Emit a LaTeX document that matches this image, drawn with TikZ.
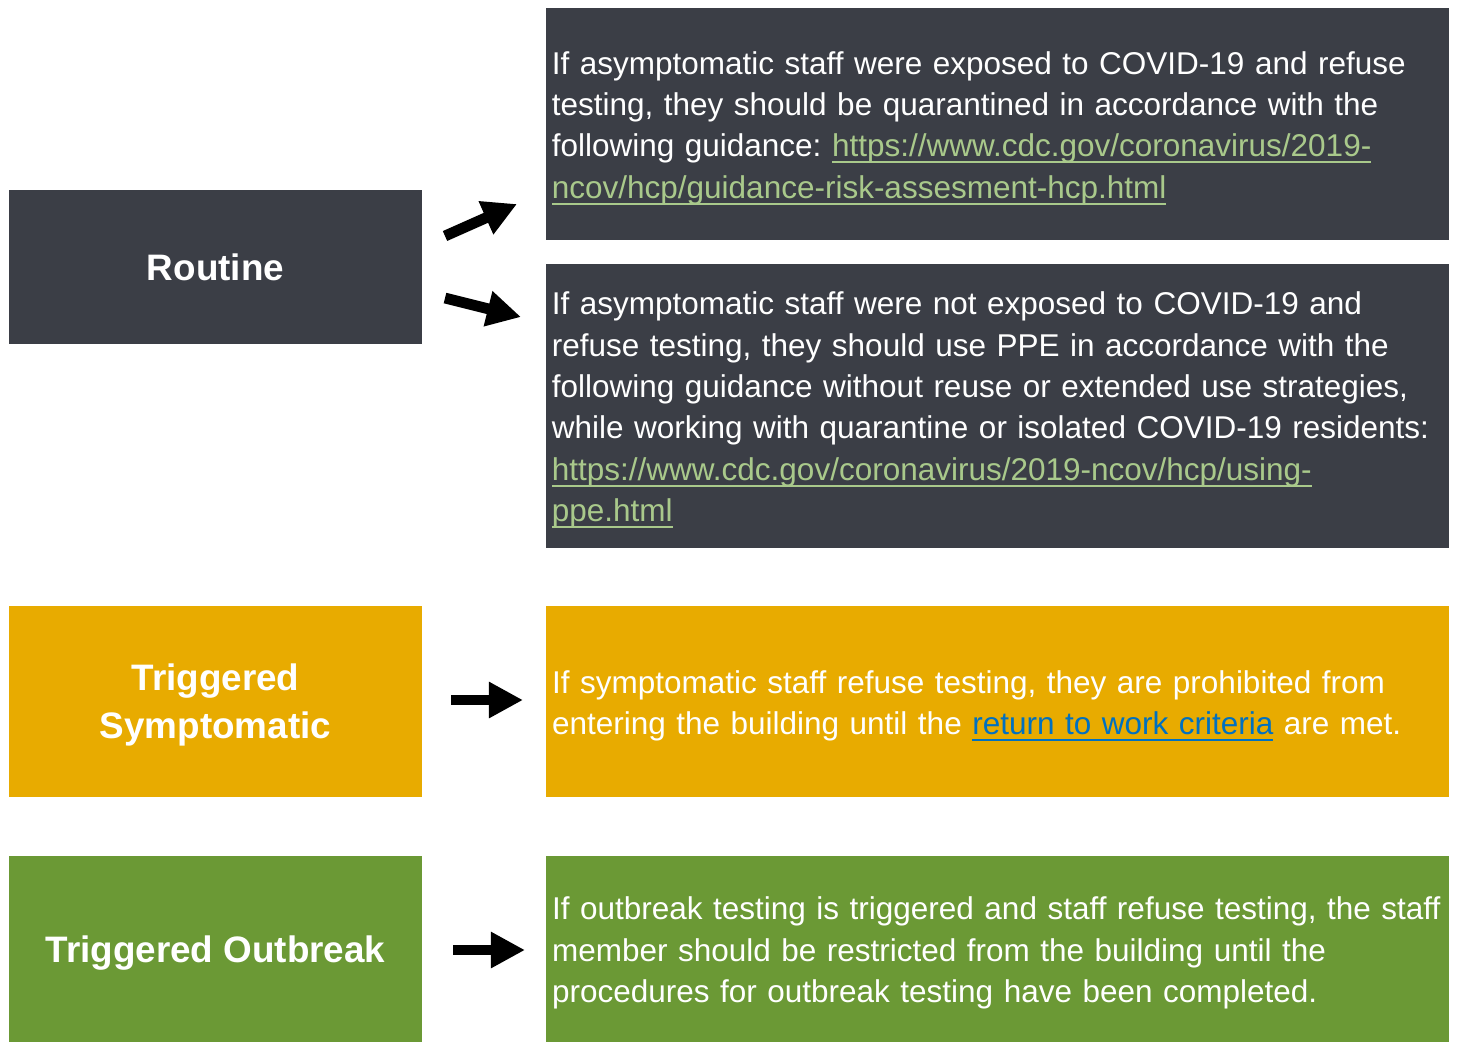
\documentclass[tikz,border=0pt]{standalone}
\usepackage{fontspec}
\setmainfont{Liberation Sans}
\usepackage{tikz}
\usetikzlibrary{positioning,arrows.meta}

\definecolor{slate}{HTML}{3B3E46}
\definecolor{amber}{HTML}{E8AB00}
\definecolor{olive}{HTML}{6B9935}
\definecolor{linkgreen}{HTML}{A9C98B}
\definecolor{linkblue}{HTML}{0070C0}

\newsavebox{\linkbox}
\newcommand{\weblink}[2]{\leavevmode{\color{#1}\sbox{\linkbox}{#2}%
    \rlap{\rule[-0.2em]{\wd\linkbox}{1.4pt}}\usebox{\linkbox}}}

\begin{document}
\frenchspacing
\begin{tikzpicture}[
        x=0.025cm, y=-0.025cm,
        stage/.style={rectangle, outer sep=0pt, minimum width=10.325cm, text depth=0pt, text=white,
            align=center, font=\fontsize{26.2}{34}\selectfont\bfseries},
        action/.style={rectangle, outer sep=0pt, minimum width=22.575cm, text width=22.275cm,
            inner xsep=0.15cm, text=white, align=left,
            font=\fontsize{22.4}{29.4}\selectfont, execute at begin node={\rule{0pt}{22pt}}},
        arrow/.style={-{Triangle[length=0.85cm, width=0.85cm]}, line width=0.27cm, black}
    ]
        \useasboundingbox (0,0) rectangle (1457,1042);

        % Stages
        \node[stage, fill=slate, minimum height=3.85cm] (routine) at (215.5,267) {Routine};
        \node[stage, fill=amber, minimum height=4.775cm] (symptom) at (215.5,701.5) {Triggered\\Symptomatic};
        \node[stage, fill=olive, minimum height=4.65cm] (outbreak) at (215.5,949) {Triggered Outbreak};

        % Actions
        \node[action, fill=slate, minimum height=5.8cm] (exposed) at (997.5,124)
            {If asymptomatic staff were exposed to COVID-19 and refuse\\
             testing, they should be quarantined in accordance with the\\
             following guidance: \weblink{linkgreen}{https://www.cdc.gov/coronavirus/2019-}\\
             \weblink{linkgreen}{ncov/hcp/guidance-risk-assesment-hcp.html}};
        \node[action, fill=slate, minimum height=7.1cm] (unexposed) at (997.5,406)
            {If asymptomatic staff were not exposed to COVID-19 and\\
             refuse testing, they should use PPE in accordance with the\\
             following guidance without reuse or extended use strategies,\\
             while working with quarantine or isolated COVID-19 residents:\\
             \weblink{linkgreen}{https://www.cdc.gov/coronavirus/2019-ncov/hcp/using-}\\
             \weblink{linkgreen}{ppe.html}};
        \node[action, fill=amber, minimum height=4.775cm, right=3.1cm of symptom] (prohibit)
            {If symptomatic staff refuse testing, they are prohibited from\\
             entering the building until the \weblink{linkblue}{return to work criteria} are met.};
        \node[action, fill=olive, minimum height=4.65cm, right=3.1cm of outbreak] (restrict)
            {If outbreak testing is triggered and staff refuse testing, the staff\\
             member should be restricted from the building until the\\
             procedures for outbreak testing have been completed.};

        % Arrow ends
        \coordinate (a1s) at (445,236);
        \coordinate (a1e) at (517,204);
        \coordinate (a2s) at (445,298);
        \coordinate (a2e) at (521,317);
        \coordinate (a3s) at (451,700);
        \coordinate (a3e) at (523,700);
        \coordinate (a4s) at (453,950);
        \coordinate (a4e) at (525,950);

        \foreach \from/\to in {a1s/a1e, a2s/a2e, a3s/a3e, a4s/a4e} {
            \draw[arrow] (\from) -- (\to);
        }
    \end{tikzpicture}
\end{document}
